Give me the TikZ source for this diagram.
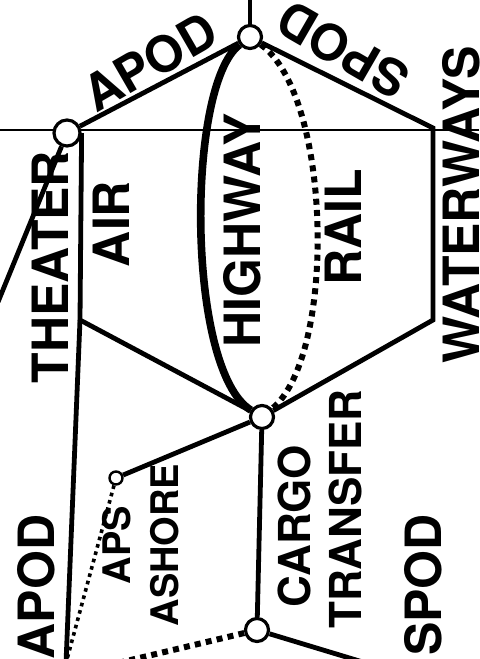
\documentclass[tikz,border=0pt]{standalone}
\usepackage{fontspec}
\setmainfont{TeX Gyre Heros}

\begin{document}
\begin{tikzpicture}[
  x=0.5pt, y=-0.5pt,
  hub/.style={circle, draw, fill=white, line width=1.6pt, minimum size=11.5pt, inner sep=0pt},
  apsdot/.style={circle, draw, fill=white, line width=1.2pt, minimum size=6.5pt, inner sep=0pt},
  lbl/.style={font=\fontsize{25}{26}\selectfont\bfseries, inner sep=0pt},
  midlbl/.style={font=\fontsize{22}{24}\selectfont\bfseries, inner sep=0pt},
  smllbl/.style={font=\fontsize{19}{21}\selectfont\bfseries, inner sep=0pt},
  border/.style={line width=1pt},
  link/.style={line width=2.4pt},
  hwy/.style={line width=3.8pt},
  rail/.style={line width=3pt, dash pattern=on 3pt off 2.6pt},
  shore/.style={line width=1.8pt, dash pattern=on 1.8pt off 2pt},
]
\useasboundingbox (0,0) rectangle (479,659);

% free ends and corners
\coordinate (top) at (250,-4);
\coordinate (west) at (-2,302);
\coordinate (apodS) at (66,663);
\coordinate (seaW) at (118,663);
\coordinate (seaE) at (366,663);
\coordinate (airSW) at (80,320);
\coordinate (wwNE) at (433,128);
\coordinate (wwSE) at (433,320);
\coordinate (bdW) at (0,130);
\coordinate (bdE) at (479,130);

\draw[border] (bdW) -- (bdE);

\node[hub, minimum size=13pt] (theater) at (67,133) {};
\node[hub] (apod) at (250,37) {};
\node[hub] (cargo) at (262,417) {};
\node[hub] (spod) at (257,630) {};
\node[apsdot] (aps) at (116,478) {};

\draw[link] (theater) -- (apod);
\draw[link] (apod) -- (wwNE) -- (wwSE) -- (cargo);
\draw[link] (theater.east) -- (airSW) -- (cargo);
\draw[link] (airSW) -- (apodS);
\draw[link] (theater) -- (west);
\draw[link] (apod) -- (top);
\draw[link] (cargo) -- (spod);
\draw[link] (aps) -- (cargo);
\draw[link] (spod) -- (seaE);
\draw[shore] (aps) -- (apodS);
\draw[rail] (spod) -- (seaW);
\draw[hwy] (apod) .. controls (186,85) and (186,370) .. (cargo);
\draw[rail] (apod) .. controls (332,95) and (337,355) .. (cargo);

% labels
\node[lbl, rotate=30] (tapod) at (150,62) {APOD};
\node[lbl, rotate=150] (tspod) at (343,50) {SPOD};
\node[lbl, rotate=90] (twater) at (461,205) {WATERWAYS};
\node[lbl, rotate=90] (ttheater) at (50,267) {THEATER};
\node[lbl, rotate=90] (tair) at (111,224) {AIR};
\node[lbl, rotate=90] (thwy) at (242,230) {HIGHWAY};
\node[lbl, rotate=90] (trail) at (343,227) {RAIL};
\node[smllbl, rotate=90] (taps) at (117,545) {APS};
\node[smllbl, rotate=90] (tashore) at (165,545) {ASHORE};
\node[midlbl, rotate=90] (tcargo) at (294,526) {CARGO};
\node[midlbl, rotate=90] (ttransfer) at (345,509) {TRANSFER};
\node[lbl, rotate=90] (tspodS) at (423,585) {SPOD};
\node[lbl, rotate=90] (tapodS) at (36,587) {APOD};
\end{tikzpicture}
\end{document}
